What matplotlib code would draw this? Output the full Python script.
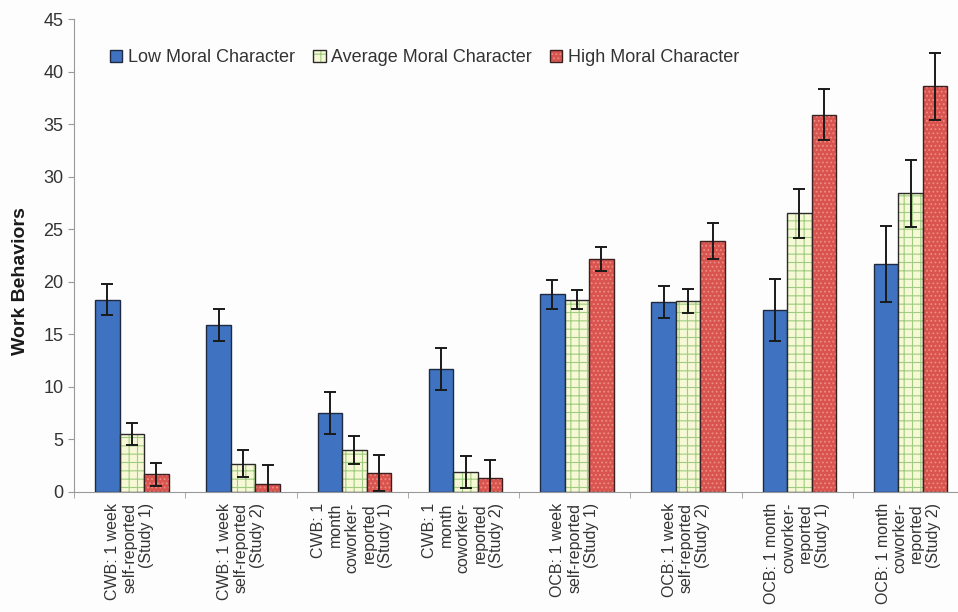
import matplotlib.pyplot as plt
import numpy as np

plt.rcParams['font.family'] = ['Liberation Sans', 'DejaVu Sans']

# groups on the x axis
groups = [
    'CWB: 1 week\nself-reported\n(Study 1)',
    'CWB: 1 week\nself-reported\n(Study 2)',
    'CWB: 1\nmonth\ncoworker-\nreported\n(Study 1)',
    'CWB: 1\nmonth\ncoworker-\nreported\n(Study 2)',
    'OCB: 1 week\nself-reported\n(Study 1)',
    'OCB: 1 week\nself-reported\n(Study 2)',
    'OCB: 1 month\ncoworker-\nreported\n(Study 1)',
    'OCB: 1 month\ncoworker-\nreported\n(Study 2)',
]
series = ['Low Moral Character', 'Average Moral Character', 'High Moral Character']

low = [18.3, 15.9, 7.5, 11.7, 18.8, 18.1, 17.3, 21.7]
avg = [5.5, 2.7, 4.0, 1.9, 18.3, 18.2, 26.5, 28.4]
high = [1.7, 0.8, 1.8, 1.3, 22.2, 23.9, 35.9, 38.6]

low_err = [1.5, 1.5, 2.0, 2.0, 1.35, 1.5, 2.95, 3.65]
avg_err = [1.05, 1.25, 1.35, 1.55, 0.9, 1.15, 2.3, 3.2]
high_err = [1.1, 1.8, 1.7, 1.7, 1.15, 1.7, 2.45, 3.2]

fig = plt.figure(figsize=(9.58, 6.12), dpi=100)
fig.patch.set_facecolor('#fdfdfd')
ax = fig.add_axes([74 / 958, 1 - 492 / 612, 890 / 958, 473 / 612])
ax.set_facecolor('#fdfdfd')

x = np.arange(len(groups)) + 0.02
w = 0.22
plt.rcParams['hatch.linewidth'] = 0.8

err_kw = dict(ecolor='#1a1a1a', elinewidth=1.4, capsize=4, capthick=1.4)

b1 = ax.bar(x - w, low, w, yerr=low_err, color='#3f73c2', edgecolor='#1f2a40',
            linewidth=1, error_kw=err_kw, label=series[0])
b2 = ax.bar(x, avg, w, yerr=avg_err, color='#f6f8d6', edgecolor='#2a2a2a',
            linewidth=1, hatch='++', error_kw=err_kw, label=series[1])
b3 = ax.bar(x + w, high, w, yerr=high_err, color='#d9544e', edgecolor='#3a2020',
            linewidth=1, hatch='....', error_kw=err_kw, label=series[2])
for p in b3.patches:
    p._hatch_color = (0.93, 0.55, 0.52, 1.0)
for p in b2.patches:
    p._hatch_color = (0.62, 0.80, 0.50, 1.0)

ax.set_xlim(-0.5, len(groups) - 0.5)
ax.set_ylim(0, 45)
ax.set_yticks(np.arange(0, 46, 5))
ax.set_xticks(np.arange(len(groups)))
ax.set_xticklabels(groups, rotation=90, ha='center', va='top',
                   multialignment='right', fontsize=11.5, color='#333333',
                   linespacing=1.15)
ax.set_xticks(np.arange(-0.5, len(groups), 1), minor=True)
ax.tick_params(axis='x', which='major', length=0, pad=8)
ax.tick_params(axis='x', which='minor', length=4, color='#999999')
ax.tick_params(axis='y', length=4, color='#999999', labelsize=13, labelcolor='#333333')

for s in ['top', 'right']:
    ax.spines[s].set_visible(False)
for s in ['left', 'bottom']:
    ax.spines[s].set_color('#999999')

ax.set_ylabel('Work Behaviors', fontsize=14, fontweight='bold', color='#1a1a1a')
ax.yaxis.set_label_coords(-0.051, 0.445)

ax.legend(ncol=3, loc='upper left', bbox_to_anchor=(0.022, 0.97), frameon=False,
          fontsize=13, handlelength=0.7, handleheight=0.7, handletextpad=0.3,
          columnspacing=1.0, labelcolor='#333333')

fig.savefig('out.png', dpi=100, facecolor=fig.get_facecolor())
